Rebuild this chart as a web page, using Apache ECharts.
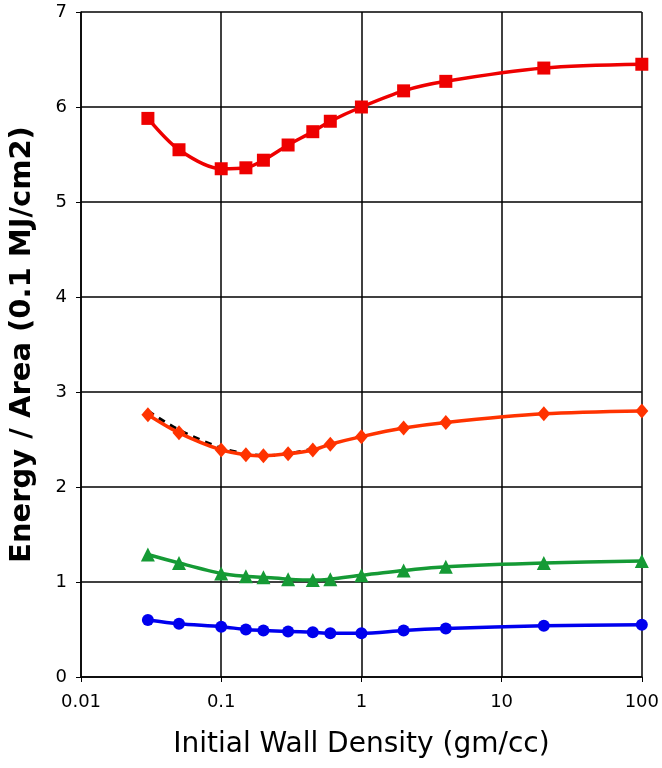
<!DOCTYPE html>
<html><head><meta charset="utf-8">
<script src="https://cdn.jsdelivr.net/npm/echarts@6/dist/echarts.min.js"></script>
<style>html,body{margin:0;padding:0;background:#fff}#c{width:662px;height:768px}</style>
</head><body><div id="c"></div>
<script>
const densities = [0.03, 0.05, 0.1, 0.15, 0.2, 0.3, 0.45, 0.6, 1, 2, 4, 20, 100];
const redSquares = [5.88, 5.55, 5.35, 5.36, 5.44, 5.60, 5.74, 5.85, 6.00, 6.17, 6.27, 6.41, 6.45];
const orangeDiamonds = [2.76, 2.57, 2.39, 2.34, 2.33, 2.35, 2.39, 2.45, 2.53, 2.62, 2.68, 2.77, 2.80];
const greenTriangles = [1.29, 1.20, 1.09, 1.06, 1.05, 1.03, 1.02, 1.03, 1.07, 1.12, 1.16, 1.20, 1.22];
const blueCircles = [0.60, 0.56, 0.53, 0.50, 0.49, 0.48, 0.47, 0.46, 0.46, 0.49, 0.51, 0.54, 0.55];
const dashedDensities = [0.03, 0.05, 0.1, 0.15, 0.2, 0.3, 0.45];
const blackDashed = [2.80, 2.60, 2.41, 2.35, 2.33, 2.35, 2.40];
const xTicks = [0.01, 0.1, 1, 10, 100];
const yTicks = [0, 1, 2, 3, 4, 5, 6, 7];

const pairs = (xs, ys) => xs.map((x, i) => [x, ys[i]]);
const font = '"DejaVu Sans", Verdana, sans-serif';
const mk = (name, data, color, symbol, size, z) => ({
  name, type: 'line', data, smooth: 0.3, symbol, symbolSize: size, z,
  lineStyle: {color, width: 3.5}, itemStyle: {color}
});
const chart = echarts.init(document.getElementById('c'), null, {renderer: 'canvas'});
chart.setOption({
  animation: false,
  grid: {left: 78, right: 18, top: 12, bottom: 91, containLabel: false},
  xAxis: {
    type: 'log', logBase: 10, min: 0.01, max: 100,
    name: 'Initial Wall Density (gm/cc)', nameLocation: 'middle', nameGap: 54,
    nameTextStyle: {fontFamily: font, fontSize: 28, color: '#000'},
    axisLine: {lineStyle: {color: '#000', width: 1.5}},
    axisTick: {show: true, length: 5, lineStyle: {color: '#000'}},
    minorTick: {show: false},
    axisLabel: {fontFamily: font, fontSize: 18, color: '#000', margin: 16,
      formatter: v => { const r = xTicks.find(t => Math.abs(t - v) / t < 1e-6); return r === undefined ? '' : String(r); }},
    splitLine: {show: true, lineStyle: {color: '#000', width: 1.5}}
  },
  yAxis: {
    type: 'value', min: 0, max: 7, interval: 1,
    name: 'Energy / Area (0.1 MJ/cm2)', nameLocation: 'middle', nameGap: 44,
    nameTextStyle: {fontFamily: font, fontSize: 29, fontWeight: 'bold', color: '#000'},
    axisLine: {show: true, lineStyle: {color: '#000', width: 1.5}},
    axisTick: {show: true, length: 5, lineStyle: {color: '#000'}},
    axisLabel: {fontFamily: font, fontSize: 18, color: '#000', margin: 14,
      formatter: v => yTicks.includes(v) ? String(v) : ''},
    splitLine: {show: true, lineStyle: {color: '#000', width: 1.5}}
  },
  series: [
    {name: 'dashed', type: 'line', data: pairs(dashedDensities, blackDashed), smooth: 0.3,
      symbol: 'none', z: 1, lineStyle: {color: '#000', width: 3, type: [7, 6]}},
    mk('red', pairs(densities, redSquares), '#ee0000', 'rect', 13, 3),
    mk('orange', pairs(densities, orangeDiamonds), '#ff3300', 'diamond', [13, 15], 3),
    mk('green', pairs(densities, greenTriangles), '#159a35', 'triangle', 14, 3),
    mk('blue', pairs(densities, blueCircles), '#0000ee', 'circle', 12, 3)
  ]
});
</script></body></html>
